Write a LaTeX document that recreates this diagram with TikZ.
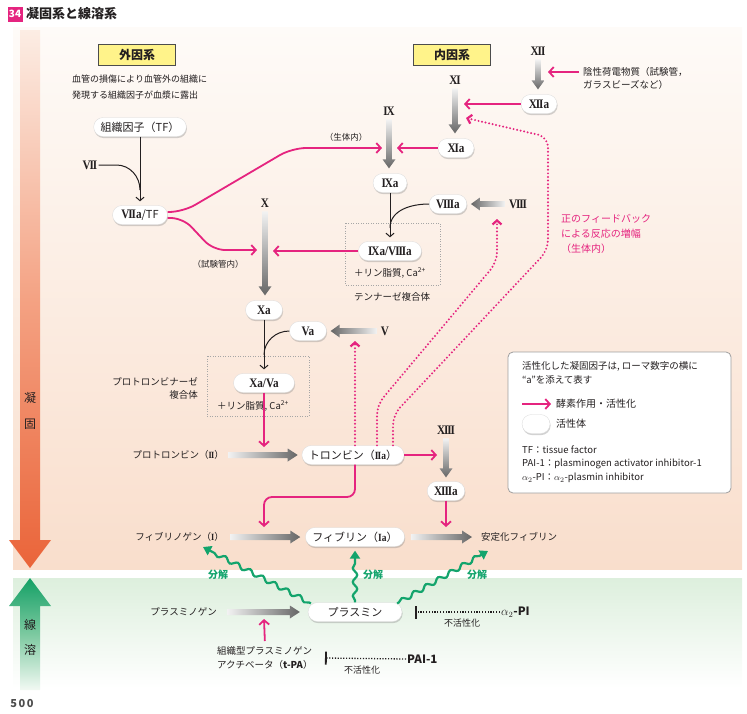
\documentclass[tikz,border=0pt]{standalone}
\usepackage{fontspec}
\setmainfont{Noto Sans CJK JP}
\newfontfamily\rnf{Liberation Serif}[FakeStretch=0.86]
\usetikzlibrary{arrows.meta,shadows,decorations.pathmorphing,calc}
\definecolor{mpink}{HTML}{E5247F}
\definecolor{mgreen}{HTML}{13A46C}
\definecolor{txt}{HTML}{231F20}
\definecolor{ylw}{HTML}{FFF38A}
\definecolor{bgT}{HTML}{FEFBF8}
\definecolor{bgB}{HTML}{F9DECC}
\definecolor{gbT}{HTML}{DDEFDD}
\definecolor{oT}{HTML}{FCEDE4}
\definecolor{oM}{HTML}{F4A283}
\definecolor{oB}{HTML}{EA6439}
\definecolor{gT}{HTML}{14A066}
\definecolor{gM}{HTML}{7CC9A0}
\definecolor{gB}{HTML}{F2F9F3}
\newcommand{\RN}[1]{{\rnf\bfseries\fontsize{13}{13}\selectfont #1}}
\newcommand{\RNs}[1]{{\rnf\bfseries #1}}
\newcommand{\kk}{\kern-0.08em}
\newcommand{\fs}[2]{\fontsize{#1}{#2}\selectfont}
\newcommand{\gav}[2]{\shade[top color=gray!10, bottom color=gray!80!black] let \p1=(#1), \p2=(#2) in
 ({\x1-2.8pt},\y1) -- ({\x1-2.8pt},{\y2+9pt}) -- ({\x1-6.5pt},{\y2+9pt}) -- (\x1,\y2) -- ({\x1+6.5pt},{\y2+9pt}) -- ({\x1+2.8pt},{\y2+9pt}) -- ({\x1+2.8pt},\y1) -- cycle;}
\newcommand{\gah}[2]{\shade[left color=gray!10, right color=gray!80!black] let \p1=(#1), \p2=(#2) in
 (\x1,{\y1-3pt}) -- ({\x2-10pt},{\y1-3pt}) -- ({\x2-10pt},{\y1-6.5pt}) -- (\x2,\y1) -- ({\x2-10pt},{\y1+6.5pt}) -- ({\x2-10pt},{\y1+3pt}) -- (\x1,{\y1+3pt}) -- cycle;}
\newcommand{\gal}[2]{\shade[left color=gray!80!black, right color=gray!10] let \p1=(#1), \p2=(#2) in
 (\x1,{\y1-2.8pt}) -- ({\x2+9pt},{\y1-2.8pt}) -- ({\x2+9pt},{\y1-6.5pt}) -- (\x2,\y1) -- ({\x2+9pt},{\y1+6.5pt}) -- ({\x2+9pt},{\y1+2.8pt}) -- (\x1,{\y1+2.8pt}) -- cycle;}
\tikzset{
 pill/.style={fill=white, draw=gray!30, line width=0.3pt, rounded corners=9.5pt, minimum height=19pt, inner xsep=7pt, inner ysep=1pt, text=txt, font=\fs{10.5}{12},
   drop shadow={shadow xshift=0.6pt, shadow yshift=-1.6pt, opacity=0.35}},
 lbl/.style={inner sep=1pt, text=txt, font=\fs{9.5}{12}},
 rn/.style={inner sep=1pt, text=txt},
 pk/.style={draw=mpink, line width=1.8pt, -{Straight Barb[length=4.5pt,width=10pt]}},
 pkd/.style={draw=mpink, line width=2.2pt, line cap=round, dash pattern=on 0pt off 3.6pt, -{Straight Barb[length=4pt,width=9pt]}},
 blk/.style={draw=txt, line width=1pt, shorten >=4pt, -{Straight Barb[length=3.5pt,width=8pt]}},
 blkl/.style={draw=txt, line width=1pt},
 ybox/.style={fill=ylw, draw=black!70, line width=0.7pt, minimum width=77pt, minimum height=21pt, font=\fs{12}{14}\bfseries, text=txt},
 wav/.style={draw=mgreen, line width=2.2pt, decorate, decoration={snake, amplitude=2.2pt, segment length=14pt, pre length=2pt, post length=9pt}, -{Triangle[length=8pt,width=10pt]}},
 inh/.style={draw=txt, line width=1.3pt, dash pattern=on 1.2pt off 1.6pt, -{Bar[width=13pt,line width=1.8pt]}},
 grn/.style={text=mgreen, font=\fs{10}{12}\bfseries, inner sep=1pt},
}
\begin{document}
\begin{tikzpicture}[x=1pt,y=-1pt]
\useasboundingbox (0,0) rectangle (747,713);
% backgrounds
\shade[top color=bgT, bottom color=bgB] (13,27) rectangle (742,569);
\shade[top color=gbT, bottom color=white] (13,578) rectangle (742,688);
% side arrows
\shade[top color=oT, bottom color=oB, middle color=oM] (20,30) -- (40,30) -- (40,540) -- (51,540) -- (30,568) -- (9,540) -- (20,540) -- cycle;
\shade[top color=gT, bottom color=gB, middle color=gM] (30,578) -- (51,606) -- (40,606) -- (40,690) -- (20,690) -- (20,606) -- (9,606) -- cycle;
\node[text=txt, font=\fs{12}{12}] (c1) at (30,398) {凝};
\node[text=txt, font=\fs{12}{12}] (c2) at (30,424) {固};
\node[text=txt, font=\fs{12}{12}] (f1) at (30,625) {線};
\node[text=txt, font=\fs{12}{12}] (f2) at (30,650) {溶};
% title
\node[fill=mpink, minimum size=15pt, inner sep=0pt, text=white, font=\fs{10}{10}\bfseries] (num) at (15,14) {34};
\node[anchor=west, font=\fs{13}{14}\bfseries, text=txt, inner sep=0pt] (title) at (26,14) {凝固系と線溶系};
\node[font=\fs{11}{12}\bfseries, text=black!70] (pg) at (22,703) {5\kern1.5pt0\kern1.5pt0};

% extrinsic
\node[ybox] (ext) at (137,55) {外因系};
\node[lbl, font=\fs{9}{15.5}, align=left, anchor=north west] (desc) at (71,74) {血管の損傷により血管外の組織に\\発現する組織因子が血漿に露出};
\node[pill, minimum width=90pt, font=\fs{11}{12}] (TF) at (140,127) {組織因子（TF）};
\node[rn] (VII) at (90,165) {\RN{V\kk I\kk I}};
\node[pill, minimum width=55pt, inner xsep=4pt, font=\fs{11}{12}] (VIIaTF) at (140,215) {\RN{V\kk I\kk Ia}/TF};
\coordinate (j1) at (140,190);
\draw[blk] (TF.south) -- (VIIaTF.north);
\draw[blkl] (VII.east) -- ++(18,0) to[out=0,in=90] (j1);
\coordinate (IXin) at (382,148);
\coordinate (Xin) at (257,250);
\draw[pk, rounded corners=14pt] ([yshift=3pt]VIIaTF.east) -- (183,212) -- (292,148) -- (IXin);
\draw[pk, rounded corners=12pt] ([yshift=-3pt]VIIaTF.east) -- (183,218) -- (213,250) -- (Xin);
\node[lbl, font=\fs{8.5}{10}] (invivo) at (346,137) {（生体内）};
\node[lbl, font=\fs{8.5}{10}] (invitro) at (218,264) {（試験管内）};

% intrinsic
\node[ybox] (int) at (452,55) {内因系};
\node[rn] (XII) at (538,51) {\RN{X\kk I\kk I}};
\node[pill, minimum width=36pt] (XIIa) at (539,104) {\RN{X\kk I\kk Ia}};
\node[lbl, anchor=west, font=\fs{9.5}{11}] (neg1) at (582,72) {陰性荷電物質（試験管，};
\node[lbl, anchor=west, font=\fs{9.5}{11}] (neg2) at (582,85) {ガラスビーズなど）};
\coordinate (XIIin) at (548,72);
\draw[pk] ([xshift=-3pt]neg1.west) -- (XIIin);
\gav{[yshift=-3pt]XII.south}{[yshift=5pt]XIIa.north}
\node[rn] (XI) at (455,80) {\RN{X\kk I}};
\node[pill, minimum width=36pt] (XIa) at (456,148) {\RN{X\kk Ia}};
\coordinate (XIin) at (464,104);
\draw[pk] (XIIa.west) -- (XIin);
\gav{[yshift=-3pt]XI.south}{[yshift=5pt]XIa.north}
\node[rn] (IX) at (389,111) {\RN{I\kk X}};
\node[pill, minimum width=34pt] (IXa) at (390,183) {\RN{I\kk Xa}};
\coordinate (IXin2) at (397,148);
\draw[pk] (XIa.west) -- (IXin2);
\gav{[yshift=-3pt]IX.south}{[yshift=5pt]IXa.north}
\node[pill, minimum width=37pt] (VIIIa) at (448,204) {\RN{V\kk I\kk I\kk Ia}};
\node[rn] (VIII) at (518,204) {\RN{V\kk I\kk I\kk I}};
\gal{[xshift=-3pt]VIII.west}{[xshift=4pt]VIIIa.east}
\draw[gray!70, line width=0.8pt, dash pattern=on 1pt off 1.5pt] (345,223) rectangle (440,285);
\node[pill, minimum width=63pt] (IXaVIIIa) at (390,251) {\RN{I\kk Xa/V\kk I\kk I\kk Ia}};
\coordinate (j2) at (390,228);
\draw[blk] (IXa.south) -- (IXaVIIIa.north);
\draw[blkl] (VIIIa.west) to[out=180,in=90] (j2);
\node[lbl, font=\fs{9.5}{10}] (lip1) at (390,273) {＋リン脂質, Ca\textsuperscript{2+}};
\node[lbl, font=\fs{9.5}{10}] (tenase) at (392,297) {テンナーゼ複合体};
\coordinate (Xin2) at (273,251);
\draw[pk] (IXaVIIIa.west) -- (Xin2);
\node[anchor=north west, align=left, text=mpink, font=\fs{10}{15}, inner sep=0pt] (fb) at (561,214) {正のフィードバック\\による反応の増幅\\（生体内）};

% common
\node[rn] (X) at (265,203) {\RN{X}};
\node[pill, minimum width=37pt] (Xa) at (264,310) {\RN{Xa}};
\gav{[yshift=-3pt]X.south}{[yshift=5pt]Xa.north}
\node[pill, minimum width=37pt] (Va) at (308,331) {\RN{Va}};
\node[rn] (V) at (385,331) {\RN{V}};
\gal{[xshift=-3pt]V.west}{[xshift=4pt]Va.east}
\draw[gray!70, line width=0.8pt, dash pattern=on 1pt off 1.5pt] (207,356) rectangle (309,416);
\node[pill, minimum width=61pt] (XaVa) at (264,383) {\RN{Xa/Va}};
\coordinate (j3) at (264,355);
\draw[blk] (Xa.south) -- (XaVa.north);
\draw[blkl] (Va.west) to[out=180,in=90] (j3);
\node[lbl, font=\fs{9.5}{10}] (lip2) at (253,406) {＋リン脂質, Ca\textsuperscript{2+}};
\node[lbl, font=\fs{9.5}{13}, align=right, anchor=east] (prot) at (199,388) {プロトロンビナーゼ\\複合体};

\node[lbl, anchor=east] (proth) at (225,455) {プロトロンビン（\RNs{I\kk I}）};
\node[pill, minimum width=100pt, font=\fs{11}{12}] (thr) at (353,455) {トロンビン（\RNs{I\kk Ia}）};
\coordinate (IIin) at (264,447);
\draw[pk] (XaVa.south) -- (IIin);
\gah{[xshift=3pt]proth.east}{[xshift=-4pt]thr.west}
\node[rn] (XIII) at (446,430) {\RN{X\kk I\kk I\kk I}};
\node[pill, minimum width=36pt] (XIIIa) at (446,491) {\RN{X\kk I\kk I\kk Ia}};
\coordinate (XIIIin) at (437,455);
\draw[pk] (thr.east) -- (XIIIin);
\gav{[yshift=-3pt]XIII.south}{[yshift=4pt]XIIIa.north}

\node[lbl, anchor=east] (fbg) at (225,537) {フィブリノゲン（\RNs{I}）};
\node[pill, minimum width=94pt, font=\fs{11}{12}] (fib) at (355,537) {フィブリン（\RNs{Ia}）};
\node[lbl, anchor=west] (sfib) at (480,537) {安定化フィブリン};
\gah{[xshift=5pt]fbg.east}{[xshift=-5pt]fib.west}
\gah{[xshift=6pt]fib.east}{[xshift=-8pt]sfib.west}
\coordinate (FIin) at (264,527);
\draw[pk, rounded corners=8pt] ([xshift=2pt]thr.south) -- (355,497) -- (264,497) -- (FIin);
\coordinate (SFin) at (446,527);
\draw[pk] (XIIIa.south) -- (SFin);

% feedback dotted
\coordinate (Vain) at (355,341);
\draw[pkd] ([xshift=2pt]thr.north) -- (Vain);
\coordinate (VIIIin) at (497,219);
\draw[pkd, rounded corners=10pt] ([xshift=24pt]thr.north) -- (377,405) -- (497,262) -- (VIIIin);
\coordinate (XIin2) at (466,118);
\draw[pkd, rounded corners=10pt] ([xshift=40pt]thr.north) -- (393,415) -- (548,250) -- (548,137) -- (XIin2);

% fibrinolysis
\node[pill, minimum width=94pt, font=\fs{11}{12}] (pls) at (355,612) {プラスミン};
\node[lbl, anchor=east] (plg) at (218,612) {プラスミノゲン};
\gah{[xshift=9pt]plg.east}{[xshift=-8pt]pls.west}
\node[lbl, anchor=north west, align=left, font=\fs{9.5}{14}] (tpa) at (216,645) {組織型プラスミノゲン\\アクチベータ（\textbf{t-PA}）};
\coordinate (PLin) at (264,619);
\draw[pk] ([yshift=4pt]tpa.north) -- (PLin);
\coordinate (FGin) at (203,547);
\coordinate (SFin2) at (488,551);
\draw[wav] ([xshift=3pt,yshift=-1pt]pls.north west) -- (FGin);
\draw[wav] (pls.north) -- ([yshift=-4pt]fib.south);
\draw[wav] ([xshift=-5pt,yshift=-1pt]pls.north east) -- (SFin2);
\node[grn] (d1) at (218,575) {分解};
\node[grn] (d2) at (373,575) {分解};
\node[grn] (d3) at (477,575) {分解};
\coordinate (bar1) at (415,612);
\node[anchor=west, font=\fs{11.5}{12}\bfseries, text=txt, inner sep=1pt] (api) at (500,612) {$\alpha_2$-PI};
\draw[inh] (api.west) -- (bar1);
\node[lbl, font=\fs{9}{10}] (inact1) at (462,623) {不活性化};
\coordinate (bar2) at (325,658);
\node[anchor=west, font=\fs{11.5}{12}\bfseries, text=txt, inner sep=1pt] (pai) at (406,659) {PAI-1};
\draw[inh] (pai.west) -- (bar2);
\node[lbl, font=\fs{9}{10}] (inact2) at (362,670) {不活性化};

% legend
\draw[gray!75, line width=0.8pt, fill=white, rounded corners=5pt] (508,352) rectangle (731,493);
\node[lbl, anchor=west, font=\fs{9.5}{12}] (lg1) at (521,366) {活性化した凝固因子は, ローマ数字の横に};
\node[lbl, anchor=west, font=\fs{9.5}{12}] (lg2) at (521,380) {“a”を添えて表す};
\node[lbl, anchor=west, font=\fs{10}{12}] (lg3) at (555,404) {酵素作用・活性化};
\coordinate (lga) at (522,404);
\draw[pk] (lga) -- ([xshift=-4pt]lg3.west);
\node[pill, minimum width=28pt] (lgp) at (536,424) {};
\node[lbl, anchor=west, font=\fs{10}{12}] (lg4) at (555,424) {活性体};
\node[lbl, anchor=west, font=\fs{9.5}{12}] (lg5) at (521,450) {TF：tissue factor};
\node[lbl, anchor=west, font=\fs{9.5}{12}] (lg6) at (521,464) {PAI-1：plasminogen activator inhibitor-1};
\node[lbl, anchor=west, font=\fs{9.5}{12}] (lg7) at (521,478) {$\alpha_2$-PI：$\alpha_2$-plasmin inhibitor};
\end{tikzpicture}
\end{document}
